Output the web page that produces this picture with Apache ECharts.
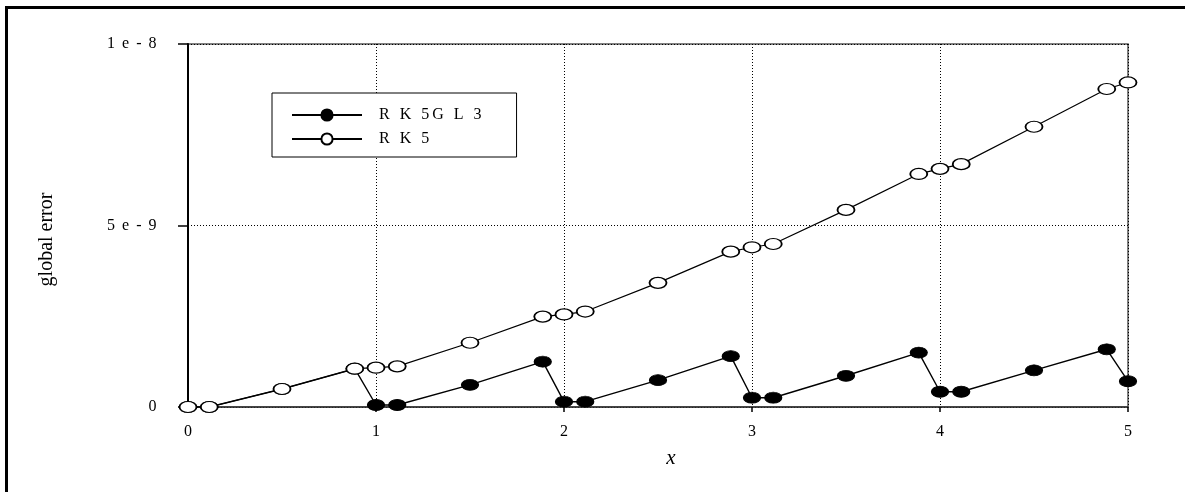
<!DOCTYPE html>
<html>
<head>
<meta charset="utf-8">
<script src="https://cdn.jsdelivr.net/npm/echarts@6/dist/echarts.min.js"></script>
<style>
  html, body { margin: 0; padding: 0; background: #fff; }
  #chart { width: 1185px; height: 492px; }
</style>
</head>
<body>
<div id="chart"></div>
<script>
// x positions: integer steps plus Gauss-Legendre interior nodes
const xValues = [0, 0.113, 0.5, 0.887, 1, 1.113, 1.5, 1.887, 2, 2.113, 2.5, 2.887, 3, 3.113, 3.5, 3.887, 4, 4.113, 4.5, 4.887, 5];
const rk5gl3 = [0, 0, 4.96e-10, 1.055e-9, 5.5e-11, 5.5e-11, 6.1e-10, 1.25e-9, 1.46e-10, 1.46e-10, 7.4e-10, 1.40e-9, 2.56e-10, 2.56e-10, 8.6e-10, 1.50e-9, 4.2e-10, 4.2e-10, 1.01e-9, 1.59e-9, 7.1e-10];
const rk5 = [0, 0, 4.96e-10, 1.055e-9, 1.083e-9, 1.12e-9, 1.77e-9, 2.49e-9, 2.55e-9, 2.63e-9, 3.42e-9, 4.28e-9, 4.40e-9, 4.49e-9, 5.43e-9, 6.42e-9, 6.56e-9, 6.69e-9, 7.72e-9, 8.76e-9, 8.94e-9];
const seriesNames = ['R K 5G L 3', 'R K 5'];
const yTickValues = [0, 5e-9, 1e-8];
const yTickLabels = ['0', '5 e - 9', '1 e - 8'];
const xTickLabels = ['0', '1', '2', '3', '4', '5'];

const FONT = 'Liberation Serif';

function track(str) {
  return str.split('').map(ch => '{t|' + ch + '}').join('');
}

const pairs = (ys) => xValues.map((x, i) => [x, ys[i]]);

const chart = echarts.init(document.getElementById('chart'), null, { renderer: 'canvas' });

chart.setOption({
  backgroundColor: '#ffffff',
  animation: false,
  grid: {
    left: 188, right: 57, top: 44, bottom: 85,
    show: true, borderColor: '#555', borderWidth: 1.5, backgroundColor: 'transparent'
  },
  graphic: [{
    type: 'rect', silent: true, z: 100,
    shape: { x: 6.5, y: 7.5, width: 1300, height: 600 },
    style: { fill: 'none', stroke: '#000', lineWidth: 3 }
  }],
  legend: {
    orient: 'vertical',
    left: 272, top: 93,
    padding: [14, 35, 10, 19],
    borderColor: '#000', borderWidth: 1,
    backgroundColor: '#fff',
    itemWidth: 70, itemHeight: 14, itemGap: 8,
    data: seriesNames,
    formatter: (name) => track(name),
    textStyle: {
      padding: [0, 0, 0, 12],
      rich: { t: { fontFamily: FONT, fontSize: 16, color: '#000', padding: [0, 3, 0, 0] } }
    }
  },
  xAxis: {
    type: 'value', min: 0, max: 5, interval: 1,
    name: 'x', nameLocation: 'middle', nameGap: 41,
    nameTextStyle: { fontFamily: FONT, fontStyle: 'italic', fontSize: 21, color: '#000', padding: [0, 0, 0, 26] },
    axisLine: { show: true, onZero: false, lineStyle: { color: '#333', width: 1.5 } },
    axisTick: { show: true, length: 5, lineStyle: { color: '#000', width: 1.5 } },
    axisLabel: {
      margin: 17, color: '#000', fontFamily: FONT, fontSize: 16,
      formatter: (v) => xTickLabels[Math.round(v)]
    },
    splitLine: { show: true, lineStyle: { color: '#000', width: 1, type: [1, 2] } }
  },
  yAxis: {
    type: 'value', min: 0, max: 1e-8, interval: 5e-9,
    name: 'global error', nameLocation: 'middle', nameGap: 131,
    nameTextStyle: { fontFamily: FONT, fontSize: 20, color: '#000', padding: [0, 28, 0, 0] },
    axisLine: { show: true, onZero: false, lineStyle: { color: '#000', width: 2 } },
    axisTick: { show: true, length: 10, lineStyle: { color: '#000', width: 1.5 } },
    axisLabel: {
      margin: 30, color: '#000',
      formatter: (v) => {
        const i = yTickValues.findIndex(t => Math.abs(t - v) < 1e-12);
        return track(i >= 0 ? yTickLabels[i] : '');
      },
      rich: { t: { fontFamily: FONT, fontSize: 16, color: '#000', padding: [0, 1.5, 0, 0] } }
    },
    splitLine: { show: true, lineStyle: { color: '#000', width: 1, type: [1, 2] } }
  },
  series: [
    {
      name: seriesNames[0], type: 'line', data: pairs(rk5gl3),
      symbol: 'circle', symbolSize: [17, 11], showAllSymbol: true,
      lineStyle: { color: '#000', width: 1.4 },
      itemStyle: { color: '#000', borderColor: '#000', borderWidth: 1 },
      z: 2
    },
    {
      name: seriesNames[1], type: 'line', data: pairs(rk5),
      symbol: 'circle', symbolSize: [17, 11], showAllSymbol: true,
      lineStyle: { color: '#000', width: 1.2 },
      itemStyle: { color: '#fff', borderColor: '#000', borderWidth: 1.5 },
      z: 3
    }
  ]
});
</script>
</body>
</html>
